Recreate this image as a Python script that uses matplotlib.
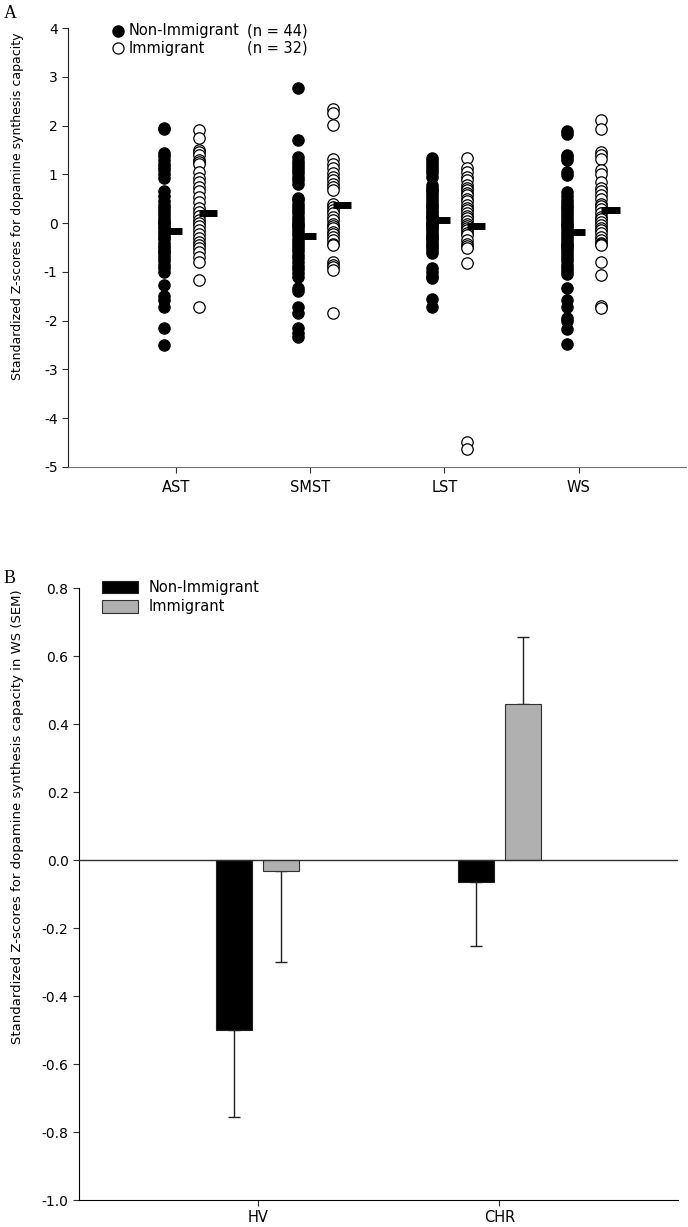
import matplotlib
matplotlib.use("Agg")
import matplotlib.pyplot as plt
import numpy as np

# ---- panel A data: standardized z-scores per region ----
regions = ["AST", "SMST", "LST", "WS"]

ast_non = [1.95, 1.92, 1.43, 1.37, 1.30, 1.22, 1.15, 1.08, 1.00, 0.92, 0.65, 0.55,
           0.45, 0.38, 0.32, 0.25, 0.18, 0.12, 0.06, 0.02, 0.00, -0.05, -0.10, -0.16,
           -0.22, -0.28, -0.33, -0.40, -0.46, -0.52, -0.58, -0.60, -0.65, -0.72, -0.78,
           -0.85, -0.92, -1.00, -1.27, -1.50, -1.57, -1.73, -2.16, -2.50]
ast_imm = [1.91, 1.74, 1.50, 1.45, 1.39, 1.29, 1.25, 1.22, 1.05, 0.92, 0.85, 0.75,
           0.65, 0.54, 0.44, 0.30, 0.22, 0.15, 0.06, 0.00, -0.05, -0.14, -0.22, -0.31,
           -0.38, -0.45, -0.52, -0.59, -0.70, -0.79, -1.16, -1.72]

smst_non = [2.76, 1.70, 1.35, 1.28, 1.22, 1.15, 1.09, 1.02, 0.95, 0.88, 0.81, 0.52,
            0.47, 0.40, 0.33, 0.26, 0.20, 0.13, 0.06, 0.00, -0.03, -0.06, -0.12, -0.18,
            -0.25, -0.32, -0.38, -0.45, -0.52, -0.58, -0.65, -0.72, -0.80, -0.87, -0.95,
            -1.02, -1.10, -1.34, -1.40, -1.72, -1.85, -2.16, -2.25, -2.33]
smst_imm = [2.33, 2.25, 2.01, 1.31, 1.22, 1.12, 1.02, 0.95, 0.88, 0.81, 0.75, 0.68,
            0.40, 0.33, 0.27, 0.20, 0.13, 0.06, -0.01, -0.05, -0.11, -0.18, -0.22, -0.28,
            -0.35, -0.42, -0.45, -0.79, -0.85, -0.90, -0.96, -1.85]

lst_non = [1.33, 1.28, 1.22, 1.15, 1.09, 1.02, 0.95, 0.78, 0.71, 0.68, 0.64, 0.58,
           0.52, 0.46, 0.40, 0.35, 0.30, 0.25, 0.20, 0.15, 0.12, 0.10, 0.05, 0.00,
           -0.02, -0.05, -0.10, -0.15, -0.20, -0.25, -0.28, -0.30, -0.35, -0.40, -0.45,
           -0.50, -0.55, -0.62, -0.93, -1.00, -1.08, -1.13, -1.55, -1.72]
lst_imm = [1.33, 1.12, 1.05, 0.95, 0.88, 0.78, 0.72, 0.68, 0.62, 0.57, 0.50, 0.45,
           0.37, 0.32, 0.27, 0.20, 0.15, 0.10, 0.05, -0.01, -0.06, -0.10, -0.14, -0.20,
           -0.25, -0.35, -0.42, -0.47, -0.52, -0.81, -4.49, -4.64]

ws_non = [1.88, 1.83, 1.40, 1.35, 1.29, 1.05, 0.98, 0.64, 0.55, 0.48, 0.42, 0.36,
          0.30, 0.24, 0.18, 0.12, 0.06, 0.00, -0.03, -0.06, -0.12, -0.18, -0.24, -0.30,
          -0.36, -0.42, -0.45, -0.48, -0.54, -0.60, -0.66, -0.72, -0.78, -0.85, -0.92,
          -0.98, -1.05, -1.34, -1.58, -1.72, -1.95, -2.00, -2.18, -2.47]
ws_imm = [2.11, 1.92, 1.46, 1.40, 1.31, 1.09, 1.00, 0.85, 0.71, 0.65, 0.57, 0.50,
          0.40, 0.35, 0.28, 0.20, 0.13, 0.08, 0.02, -0.04, -0.10, -0.15, -0.21, -0.28,
          -0.35, -0.40, -0.42, -0.45, -0.79, -1.07, -1.70, -1.75]

non_groups = [ast_non, smst_non, lst_non, ws_non]
imm_groups = [ast_imm, smst_imm, lst_imm, ws_imm]
non_means = [-0.16, -0.27, 0.06, -0.19]
imm_means = [0.21, 0.38, -0.05, 0.27]

# ---- panel B data: WS means with SEM ----
groups_b = ["HV", "CHR"]
non_mean_b = [-0.50, -0.064]
imm_mean_b = [-0.033, 0.46]
non_sem_b = [0.255, 0.19]
imm_sem_b = [0.267, 0.195]

plt.rcParams["font.family"] = "DejaVu Sans"
plt.rcParams["axes.unicode_minus"] = False

W, H = 688, 1227
fig = plt.figure(figsize=(W / 100, H / 100), dpi=100)


def fx(px):
    return px / W


def fy(py):
    return 1 - py / H


def one_sided(means, sems):
    # error bar only on the side away from zero
    lower = [s if m < 0 else 0 for m, s in zip(means, sems)]
    upper = [0 if m < 0 else s for m, s in zip(means, sems)]
    return [lower, upper]


# ---------------- panel A ----------------
axA = fig.add_axes([fx(68), fy(467), fx(686) - fx(68), fy(28) - fy(467)])
x = np.arange(1, len(regions) + 1)
off_non, off_imm = -0.09, 0.17
bar_len = 0.135

for i in range(len(regions)):
    vn = non_groups[i]
    vi = imm_groups[i]
    axA.plot([x[i] + off_non] * len(vn), vn, "o", ms=8.2, mfc="black",
             mec="black", mew=0.8, ls="none", zorder=3)
    axA.plot([x[i] + off_imm] * len(vi), vi, "o", ms=8.2, mfc="white",
             mec="black", mew=0.9, ls="none", zorder=3)
    axA.hlines(non_means[i], x[i] + off_non, x[i] + off_non + bar_len,
               color="black", lw=5, zorder=4)
    axA.hlines(imm_means[i], x[i] + off_imm, x[i] + off_imm + bar_len,
               color="black", lw=5, zorder=4)

axA.set_xlim(0.195, 4.8)
axA.set_ylim(-5, 4)
axA.set_yticks(range(-5, 5))
axA.set_xticks(x)
axA.set_xticklabels(regions)
axA.spines["top"].set_visible(False)
axA.spines["right"].set_visible(False)
axA.spines["bottom"].set_color("#707070")
axA.spines["left"].set_color("#202020")
axA.tick_params(direction="out", length=4, labelsize=10, color="#303030")
axA.tick_params(axis="x", labelsize=10.5, pad=5)

fig.text(fx(18), fy(206), "Standardized Z-scores for dopamine synthesis capacity",
         rotation=90, ha="center", va="center", fontsize=9)
fig.text(fx(4), fy(14), "A", family="Liberation Serif", fontsize=13,
         ha="left", va="center")

# manual legend, panel A
fig.lines.append(plt.Line2D([fx(118)], [fy(31)], marker="o", ms=8, mfc="black",
                            mec="black", transform=fig.transFigure))
fig.lines.append(plt.Line2D([fx(118)], [fy(48)], marker="o", ms=8, mfc="white",
                            mec="black", mew=0.9, transform=fig.transFigure))
fig.text(fx(129), fy(31), "Non-Immigrant", fontsize=10.5, va="center")
fig.text(fx(129), fy(48), "Immigrant", fontsize=10.5, va="center")
fig.text(fx(247), fy(31), "(n = 44)", fontsize=10.5, va="center")
fig.text(fx(247), fy(48), "(n = 32)", fontsize=10.5, va="center")

# ---------------- panel B ----------------
axB = fig.add_axes([fx(79), fy(1200), fx(678) - fx(79), fy(588) - fy(1200)])
xb = np.arange(1, len(groups_b) + 1)
bw = 0.149
shift = 0.097

axB.bar(xb - shift, non_mean_b, width=bw, color="black", edgecolor="#202020",
        lw=0.8, label="Non-Immigrant", zorder=2)
axB.bar(xb + shift, imm_mean_b, width=bw, color="#b0b0b0", edgecolor="#303030",
        lw=0.8, label="Immigrant", zorder=2)

axB.errorbar(xb - shift, non_mean_b, yerr=one_sided(non_mean_b, non_sem_b),
             fmt="none", ecolor="#202020", elinewidth=1.0, capsize=4.5,
             capthick=1.0, zorder=1)
axB.errorbar(xb + shift, imm_mean_b, yerr=one_sided(imm_mean_b, imm_sem_b),
             fmt="none", ecolor="#202020", elinewidth=1.0, capsize=4.5,
             capthick=1.0, zorder=1)

axB.axhline(0, color="#303030", lw=1.0, zorder=3)
axB.set_xlim(0.26, 2.74)
axB.set_ylim(-1.0, 0.8)
yt = np.round(np.arange(-1.0, 0.81, 0.2), 1)
axB.set_yticks(yt)
axB.set_yticklabels([f"{v:.1f}" if v != 0 else "0.0" for v in yt])
axB.set_xticks(xb)
axB.set_xticklabels(groups_b)
axB.spines["top"].set_visible(False)
axB.spines["right"].set_visible(False)
axB.tick_params(direction="out", length=4, labelsize=10, color="#303030")
axB.tick_params(axis="x", labelsize=10.5)
axB.legend(loc="upper left", bbox_to_anchor=(0.038, 1.013), frameon=False,
           fontsize=10.5, handlelength=2.5, handleheight=0.95, handletextpad=0.7,
           labelspacing=0.3, borderaxespad=0, borderpad=0)

fig.text(fx(18), fy(817),
         "Standardized Z-scores for dopamine synthesis capacity in WS (SEM)",
         rotation=90, ha="center", va="center", fontsize=9.5)
fig.text(fx(4), fy(578), "B", family="Liberation Serif", fontsize=13,
         ha="left", va="center")

fig.savefig("out.png", dpi=100)
